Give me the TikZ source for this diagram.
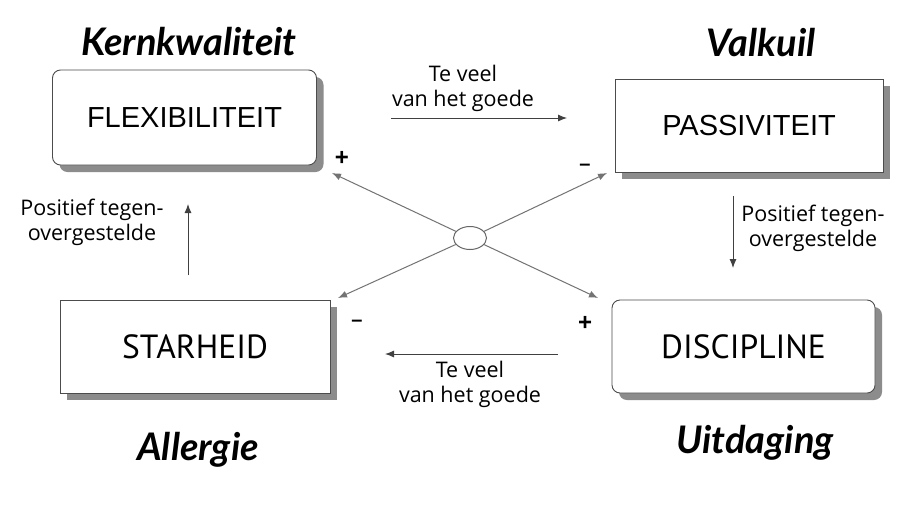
\documentclass[tikz,border=0pt]{standalone}
\usepackage{fontspec}
\setmainfont{Liberation Sans}
\newfontfamily\headfont{Lato}
\newfontfamily\labfont{Open Sans}
\newfontfamily\dinfont{PT Sans}
\usetikzlibrary{arrows.meta,shapes.geometric,shadows}
\begin{document}
\begin{tikzpicture}[x=1pt,y=-1pt,
  box/.style={draw=black!70, line width=0.9pt, fill=white, inner sep=0pt,
    drop shadow={shadow xshift=7pt, shadow yshift=-7pt, fill=black!45, opacity=1}},
  rbox/.style={box, rounded corners=8pt},
  boxtxt/.style={font=\fontsize{29}{34}\selectfont},
  dintxt/.style={font=\dinfont\fontsize{33.5}{38}\selectfont},
  head/.style={font=\headfont\bfseries\itshape\fontsize{38}{44}\selectfont},
  lab/.style={font=\labfont\fontsize{21.5}{25}\selectfont, align=center, inner sep=0pt},
  sign/.style={font=\bfseries\fontsize{24}{26}\selectfont, inner sep=0pt},
  minus/.style={font=\bfseries\fontsize{20}{22}\selectfont, inner sep=0pt},
  arr/.style={-{Latex[length=9pt,width=7pt]}, line width=0.9pt, draw=black!75},
  darr/.style={-{Latex[length=9pt,width=7pt]}, line width=1pt, draw=black!55}
]
\useasboundingbox (0,0) rectangle (920,507);
\fill[white] (0,0) rectangle (920,507);

% boxes
\node[rbox, minimum width=264pt, minimum height=95pt, boxtxt] (flex) at (184.5,117.5) {FLEXIBILITEIT};
\node[box, minimum width=268pt, minimum height=93pt, boxtxt] (pass) at (749,125.5) {PASSIVITEIT};
\node[box, minimum width=270pt, minimum height=93pt, dintxt] (star) at (195,346.5) {STARHEID};
\node[rbox, minimum width=263pt, minimum height=93pt, dintxt] (disc) at (743.5,346.5) {DISCIPLINE};

% headings
\node[head] (hk) at (189,42) {Kernkwaliteit};
\node[head] (hv) at (761,43) {Valkuil};
\node[head] (ha) at (198,450) {Allergie};
\node[head] (hu) at (755,443) {Uitdaging};

% centre
\node[ellipse, draw=black!60, line width=1pt, minimum width=33pt, minimum height=23pt, inner sep=0pt] (c) at (470,238) {};
\coordinate (tul) at (332,173);
\coordinate (tur) at (607,173);
\coordinate (tll) at (338,298);
\coordinate (tlr) at (598,298);
\draw[darr] (c) -- (tul);
\draw[darr] (c) -- (tur);
\draw[darr] (c) -- (tll);
\draw[darr] (c) -- (tlr);

% signs
\node[sign] (s1) at (342,158) {+};
\node[minus] (s2) at (585,167) {–};
\node[minus] (s3) at (357,323) {–};
\node[sign] (s4) at (585,323) {+};

% horizontal arrows
\coordinate (ha1) at (391,118);
\coordinate (ha2) at (567,118);
\draw[arr] (ha1) -- (ha2);
\node[lab] (l1) at (463,88) {Te veel\\van het goede};

\coordinate (hb1) at (558,354);
\coordinate (hb2) at (385,354);
\draw[arr] (hb1) -- (hb2);
\node[lab] (l2) at (470,384) {Te veel\\van het goede};

% vertical arrows
\coordinate (va1) at (188,275);
\coordinate (va2) at (188,204);
\draw[arr] (va1) -- (va2);
\node[lab] (l3) at (92,222) {Positief tegen-\\overgestelde};

\coordinate (vb1) at (733,196);
\coordinate (vb2) at (733,268);
\draw[arr] (vb1) -- (vb2);
\node[lab] (l4) at (813,228) {Positief tegen-\\overgestelde};
\end{tikzpicture}
\end{document}
